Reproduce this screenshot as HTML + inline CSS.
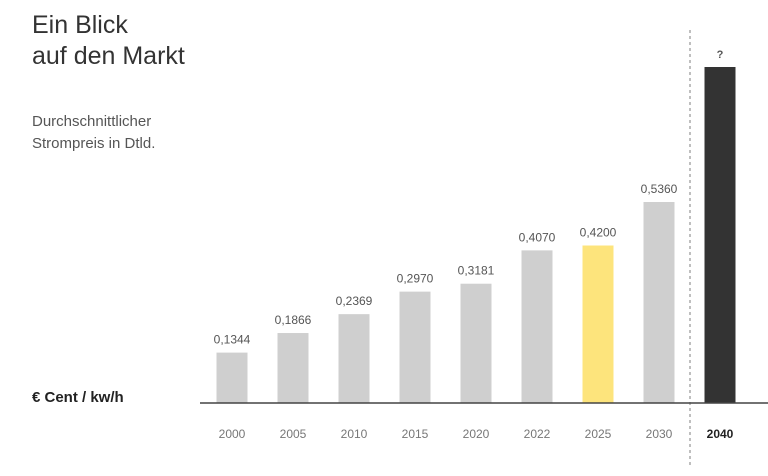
<!DOCTYPE html>
<html><head><meta charset="utf-8"><style>
body{margin:0;background:#fff;width:768px;height:476px;overflow:hidden;font-family:"Liberation Sans",sans-serif}
.t{position:absolute;color:#333}
</style></head><body>
<div class="t" style="left:32px;top:10px;font-size:25px;line-height:31px;font-weight:300;color:#333">Ein Blick<br>auf den Markt</div>
<div class="t" style="left:32px;top:111px;font-size:15px;line-height:22px;color:#555">Durchschnittlicher<br>Strompreis in Dtld.</div>
<div class="t" style="left:32px;top:389px;font-size:15px;font-weight:bold;color:#222">€ Cent / kw/h</div>
<svg id="c" width="768" height="476" style="position:absolute;left:0;top:0"></svg>
<script>
const categories=["2000","2005","2010","2015","2020","2022","2025","2030","2040"];
const values=[0.1344,0.1866,0.2369,0.2970,0.3181,0.4070,0.4200,0.5360,0.896];
const valueLabels=["0,1344","0,1866","0,2369","0,2970","0,3181","0,4070","0,4200","0,5360","?"];
const base=403,scale=375,x0=232,step=61,bw=31;
const X=i=>x0+i*step, Y=v=>base-v*scale;
const s=document.getElementById('c'),ns='http://www.w3.org/2000/svg';
function mk(t,a){const e=document.createElementNS(ns,t);for(const k in a)e.setAttribute(k,a[k]);s.appendChild(e);return e;}
let d=mk('line',{x1:690,x2:690,y1:30,y2:465,stroke:'#aaa','stroke-width':1.5,'stroke-dasharray':'3,3'});


categories.forEach((c,i)=>{
 const fill=i===8?'#333':(c==='2025'?'#fde47c':'#cfcfcf');
 const b=mk('rect',{x:X(i)-bw/2,y:Y(values[i]),width:bw,height:values[i]*scale,fill:fill});
 
 
 const l=mk('text',{x:X(i),y:Y(values[i])-9,'text-anchor':'middle','font-size':i===8?11:12,fill:'#555','font-weight':i===8?'bold':'normal'});
 l.textContent=valueLabels[i];
 
 
 const t=mk('text',{x:X(i),y:438,'text-anchor':'middle','font-size':12,fill:i===8?'#222':'#777','font-weight':i===8?'bold':'normal'});
 t.textContent=c;
 
 
});
const ax=mk('line',{x1:200,x2:768,y1:base,y2:base,stroke:'#444','stroke-width':1.5});


</script>
</body></html>
